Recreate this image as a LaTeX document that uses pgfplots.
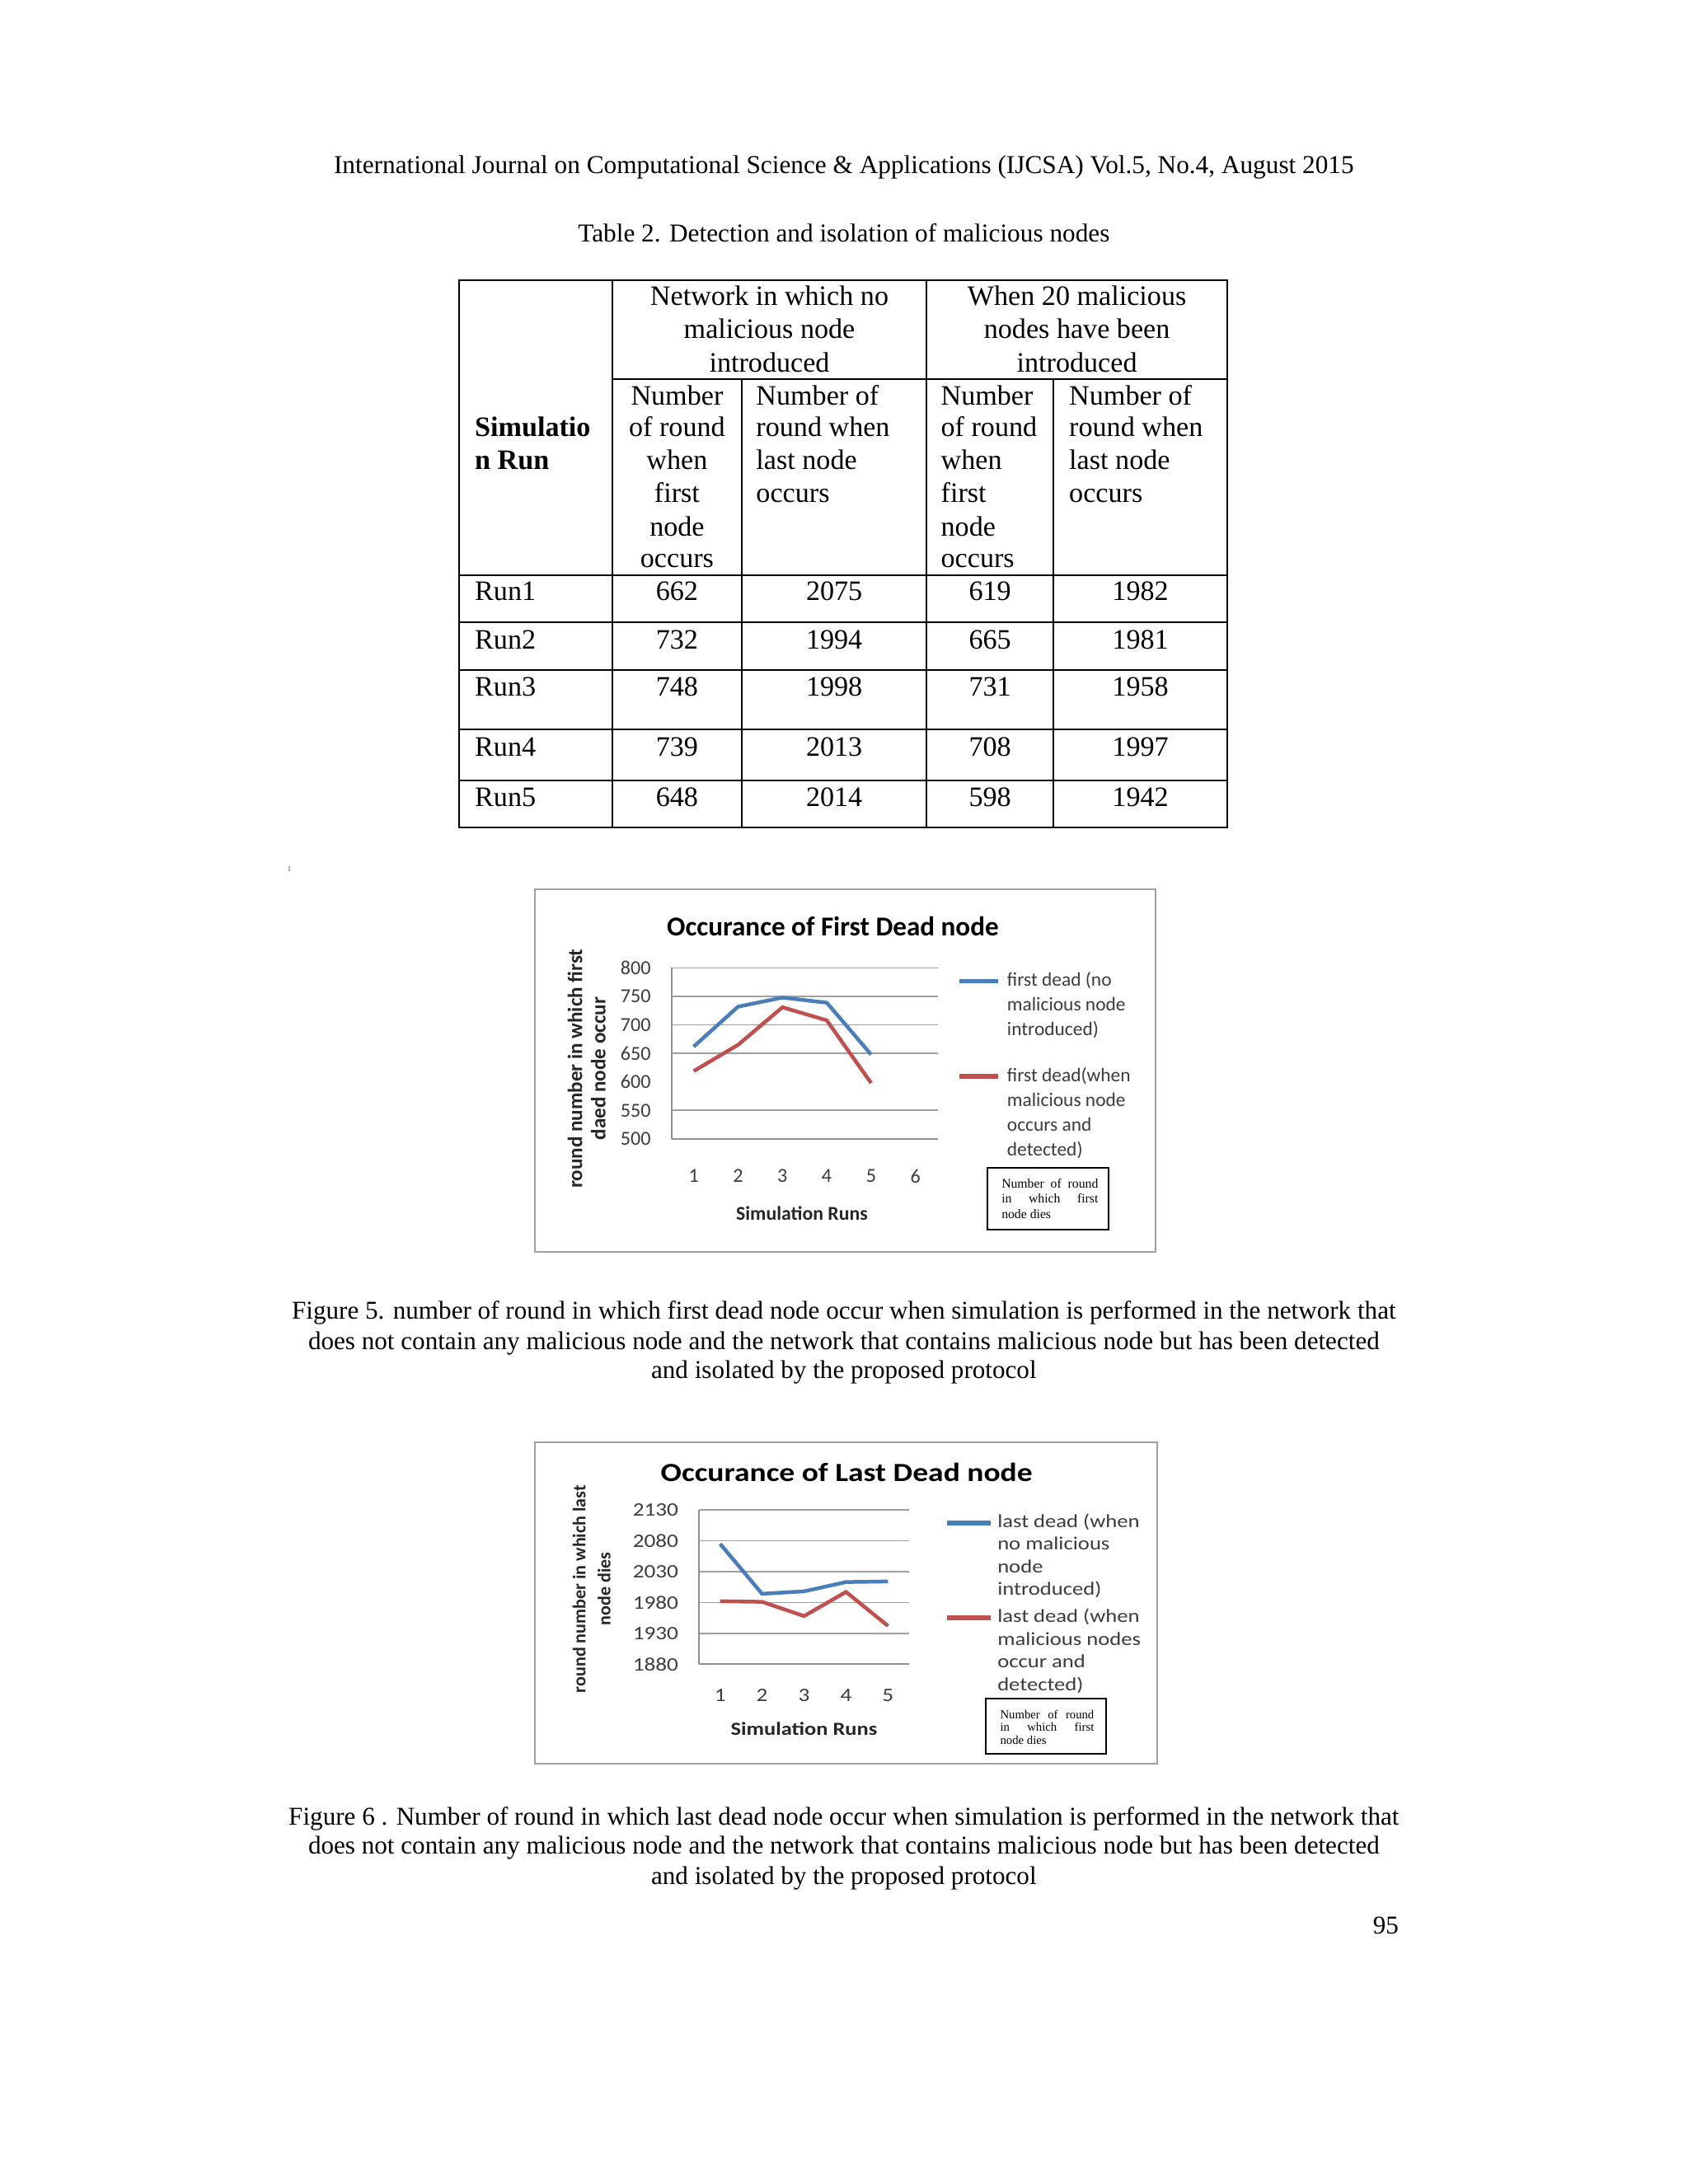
\documentclass[border=0pt]{standalone}
\usepackage{fontspec}
\setmainfont{Liberation Serif}
\newfontfamily\calfnt{Carlito}
\newfontfamily\calwfnt[FakeStretch=1.18]{Carlito}
\usepackage{pgfplots}
\pgfplotsset{compat=1.18}
\definecolor{xlblue}{RGB}{74,126,187}
\definecolor{xlred}{RGB}{192,80,77}
\definecolor{txtgray}{RGB}{60,60,60}
\definecolor{gridgray}{RGB}{160,160,160}
\newcommand{\fs}[2]{\fontsize{#1}{#2}\selectfont}
\newcommand{\T}[4][]{\node[anchor=base,inner sep=0pt,font=\fs{10.2}{12},#1] at (#2,-#3) {#4};}
\newcommand{\TL}[4][]{\node[anchor=base west,inner sep=0pt,font=\fs{10.2}{12},#1] at (#2,-#3) {#4};}
\begin{document}
\begin{tikzpicture}[x=1pt,y=1pt]
\useasboundingbox (0,0) rectangle (612,-792);
\fill[white] (0,0) rectangle (612,-792);
% header
\T[font=\fs{9.35}{11}]{306}{62.8}{International Journal on Computational Science \& Applications (IJCSA) Vol.5, No.4, August 2015}
\T[font=\fs{9.35}{11}]{306}{87.8}{Table 2. Detection and isolation of malicious nodes}
% table grid
\draw[line width=0.6pt] (166.5,-101.5) rectangle (445,-300);
\draw[line width=0.6pt] (222,-101.5) -- (222,-300);
\draw[line width=0.6pt] (336,-101.5) -- (336,-300);
\draw[line width=0.6pt] (269,-137.5) -- (269,-300);
\draw[line width=0.6pt] (382,-137.5) -- (382,-300);
\draw[line width=0.6pt] (222,-137.5) -- (445,-137.5);
\foreach \yy in {208.5,225.5,243,264.5,283} \draw[line width=0.6pt] (166.5,-\yy) -- (445,-\yy);
% table header text
\T{279}{110.8}{Network in which no}
\T{279}{122.8}{malicious node}
\T{279}{134.8}{introduced}
\T{390.5}{110.8}{When 20 malicious}
\T{390.5}{122.8}{nodes have been}
\T{390.5}{134.8}{introduced}
\TL[font=\bfseries\fs{10.2}{12}]{172}{158.3}{Simulatio}
\TL[font=\bfseries\fs{10.2}{12}]{172}{170.3}{n Run}
\T{245.5}{146.8}{Number}
\T{245.5}{158.3}{of round}
\T{245.5}{170.3}{when}
\T{245.5}{182.3}{first}
\T{245.5}{194.3}{node}
\T{245.5}{205.8}{occurs}
\TL{274}{146.8}{Number of}
\TL{274}{158.3}{round when}
\TL{274}{170.3}{last node}
\TL{274}{182.3}{occurs}
\TL{341}{146.8}{Number}
\TL{341}{158.3}{of round}
\TL{341}{170.3}{when}
\TL{341}{182.3}{first}
\TL{341}{194.3}{node}
\TL{341}{205.8}{occurs}
\TL{387.5}{146.8}{Number of}
\TL{387.5}{158.3}{round when}
\TL{387.5}{170.3}{last node}
\TL{387.5}{182.3}{occurs}
% table body
\TL{172}{217.8}{Run1}\T{245.5}{217.8}{662}\T{302.5}{217.8}{2075}\T{359}{217.8}{619}\T{413.5}{217.8}{1982}
\TL{172}{235.3}{Run2}\T{245.5}{235.3}{732}\T{302.5}{235.3}{1994}\T{359}{235.3}{665}\T{413.5}{235.3}{1981}
\TL{172}{252.3}{Run3}\T{245.5}{252.3}{748}\T{302.5}{252.3}{1998}\T{359}{252.3}{731}\T{413.5}{252.3}{1958}
\TL{172}{274.3}{Run4}\T{245.5}{274.3}{739}\T{302.5}{274.3}{2013}\T{359}{274.3}{708}\T{413.5}{274.3}{1997}
\TL{172}{292.3}{Run5}\T{245.5}{292.3}{648}\T{302.5}{292.3}{2014}\T{359}{292.3}{598}\T{413.5}{292.3}{1942}
\T[font=\fs{4}{4},text=gray]{105}{316}{ı}
% ---------------- chart 1
\draw[gridgray, line width=0.6pt] (194,-322.5) rectangle (419,-454);
\node[font=\calfnt\bfseries\fs{9.9}{11}] at (302,-336) {Occurance of First Dead node};
\begin{axis}[
  at={(243.5pt,-413pt)}, anchor=south west, scale only axis,
  width=96.5pt, height=62pt,
  xmin=0.5, xmax=6.5, ymin=500, ymax=800,
  xtick={1,2,3,4,5,6}, ytick={500,550,600,650,700,750,800},
  extra y ticks={550,650,700,750,800}, extra y tick labels={},
  extra y tick style={grid=major},
  grid style={gridgray, line width=0.5pt},
  axis x line*=bottom, axis y line*=left,
  axis line style={gridgray!90!black, line width=0.6pt, -},
  major tick length=0pt,
  tick label style={font=\calfnt\fs{7.2}{8}, text=txtgray},
  /pgf/number format/assume math mode=true,
  /pgf/number format/set thousands separator={},
  xticklabel style={yshift=-7.5pt},
  yticklabel style={xshift=-4pt},
  xlabel={Simulation Runs},
  ylabel={round number in which first\\daed node occur},
  xlabel style={at={(axis description cs:0.49,-0.435)}, anchor=center, font=\calfnt\bfseries\fs{7.1}{8}, text=black!85},
  ylabel style={at={(axis description cs:-0.319,0.411)}, anchor=center, align=center, font=\calfnt\bfseries\fs{7.5}{8.5}, text=black!85},
  legend image code/.code={\draw[#1, line width=1.7pt] (0pt,0pt) -- (14pt,0pt);},
  legend style={at={(axis description cs:1.0725,0.976)}, anchor=north west, draw=none, fill=none,
    inner sep=0pt, outer sep=0pt, font=\calfnt\fs{7}{9}, text=txtgray, row sep=28pt, column sep=2.5pt,
    nodes={inner sep=0pt}},
  legend cell align=left,
]
\addplot[xlblue, line width=1.35pt] coordinates {(1,662) (2,732) (3,748) (4,739) (5,648)};
\addlegendentry{\parbox[t]{55pt}{\raggedright first dead (no\\malicious node\\introduced)}}
\addplot[xlred, line width=1.35pt] coordinates {(1,619) (2,665) (3,731) (4,708) (5,598)};
\addlegendentry{\parbox[t]{55pt}{\raggedright first dead(when\\malicious node\\occurs and\\detected)}}
\end{axis}
\draw[line width=0.6pt] (358,-423.5) rectangle (402,-446);
\TL[font=\fs{4.7}{5.5}]{363}{430.8}{\makebox[35pt][s]{Number of round}}
\TL[font=\fs{4.7}{5.5}]{363}{436.3}{\makebox[35pt][s]{in \hfill which \hfill first}}
\TL[font=\fs{4.7}{5.5}]{363}{441.8}{node dies}
% captions fig 5
\T[font=\fs{9.3}{11}]{306}{478.3}{Figure 5. number of round in which first dead node occur when simulation is performed in the network that}
\T[font=\fs{9.3}{11}]{306}{489.3}{does not contain any malicious node and the network that contains malicious node but has been detected}
\T[font=\fs{9.3}{11}]{306}{499.8}{and isolated by the proposed protocol}
% ---------------- chart 2
\draw[gridgray, line width=0.6pt] (194,-523) rectangle (419.5,-639.5);
\node[font=\calwfnt\bfseries\fs{9.5}{11}] at (307,-534) {Occurance of Last Dead node};
\begin{axis}[
  at={(253.5pt,-603.5pt)}, anchor=south west, scale only axis,
  width=76.1pt, height=56pt,
  xmin=0.5, xmax=5.5, ymin=1880, ymax=2130,
  xtick={1,2,3,4,5}, ytick={1880,1930,1980,2030,2080,2130},
  ymajorgrids,
  grid style={gridgray, line width=0.5pt},
  axis x line*=bottom, axis y line*=left,
  axis line style={gridgray!90!black, line width=0.6pt, -},
  major tick length=0pt,
  tick label style={font=\calwfnt\fs{6.9}{8}, text=txtgray},
  /pgf/number format/assume math mode=true,
  /pgf/number format/set thousands separator={},
  xticklabel style={yshift=-5.6pt},
  yticklabel style={xshift=-4pt},
  xlabel={Simulation Runs},
  ylabel={round number in which last\\node dies},
  xlabel style={at={(axis description cs:0.5,-0.42)}, anchor=center, font=\calwfnt\bfseries\fs{6.7}{8}, text=black!85},
  ylabel style={at={(axis description cs:-0.512,0.487)}, anchor=center, align=center, font=\calfnt\bfseries\fs{6.6}{9}, text=black!85},
  legend image code/.code={\draw[#1, line width=1.7pt] (0pt,0pt) -- (16pt,0pt);},
  legend style={at={(axis description cs:1.1695,0.973)}, anchor=north west, draw=none, fill=none,
    inner sep=0pt, outer sep=0pt, font=\calwfnt\fs{6.75}{8.2}, text=txtgray, row sep=28pt, column sep=1.5pt,
    nodes={inner sep=0pt}},
  legend cell align=left,
]
\addplot[xlblue, line width=1.35pt] coordinates {(1,2075) (2,1994) (3,1998) (4,2013) (5,2014)};
\addlegendentry{\parbox[t]{60pt}{\raggedright last dead (when\\no malicious\\node\\introduced)}}
\addplot[xlred, line width=1.35pt] coordinates {(1,1982) (2,1981) (3,1958) (4,1997) (5,1942)};
\addlegendentry{\parbox[t]{60pt}{\raggedright last dead (when\\malicious nodes\\occur and\\detected)}}
\end{axis}
\draw[line width=0.6pt] (357.5,-616) rectangle (401,-636);
\TL[font=\fs{4.4}{5}]{362.5}{623.2}{\makebox[34pt][s]{Number of round}}
\TL[font=\fs{4.4}{5}]{362.5}{627.9}{\makebox[34pt][s]{in \hfill which \hfill first}}
\TL[font=\fs{4.4}{5}]{362.5}{632.6}{node dies}
% captions fig 6
\T[font=\fs{9.3}{11}]{306}{661.8}{Figure 6 . Number of round in which last dead node occur when simulation is performed in the network that}
\T[font=\fs{9.3}{11}]{306}{672.3}{does not contain any malicious node and the network that contains malicious node but has been detected}
\T[font=\fs{9.3}{11}]{306}{683.3}{and isolated by the proposed protocol}
\T[font=\fs{9.3}{11}]{502.5}{701.3}{95}
\end{tikzpicture}
\end{document}
